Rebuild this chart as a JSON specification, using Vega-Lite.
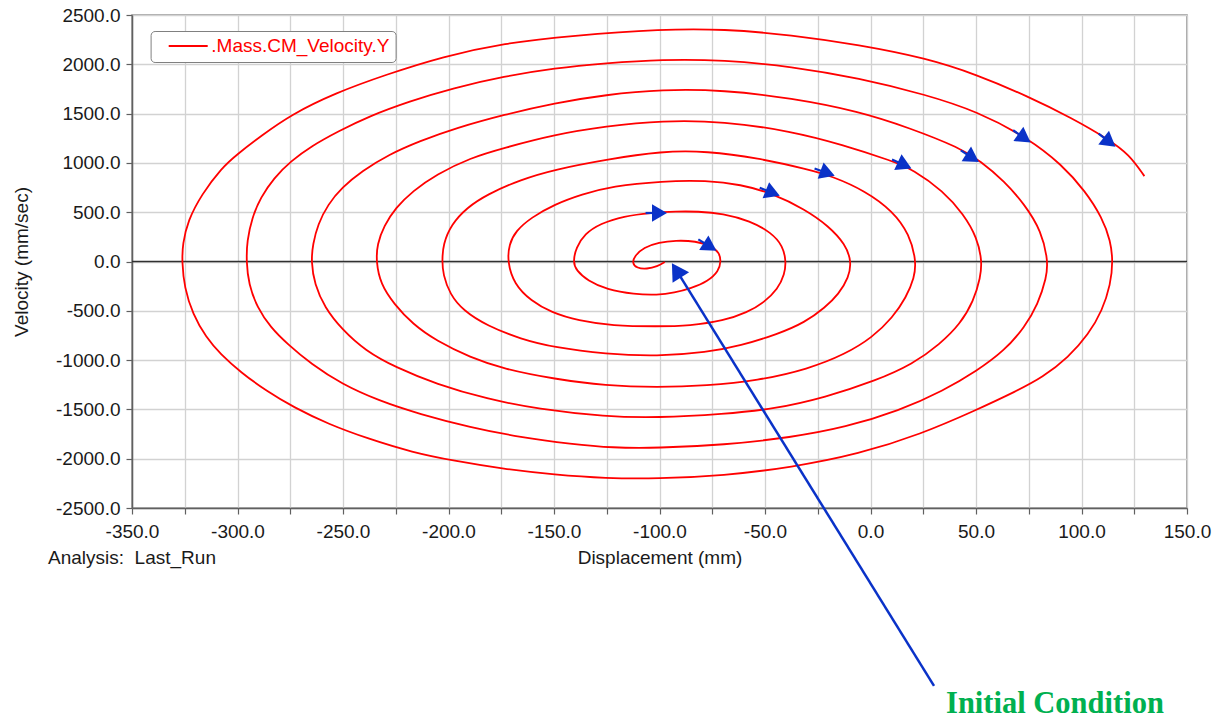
{
  "$schema": "https://vega.github.io/schema/vega-lite/v6.json",
  "width": 1055,
  "height": 493,
  "autosize": {"type": "none"},
  "padding": {"left": 132, "top": 15, "right": 40, "bottom": 213},
  "background": "white",
  "config": {
    "view": {"stroke": "#8c8c8c", "strokeWidth": 1.5},
    "font": "Liberation Sans",
    "axis": {
      "labelFont": "Liberation Sans", "labelFontSize": 19, "labelColor": "#1a1a1a",
      "titleFont": "Liberation Sans", "titleFontSize": 19, "titleFontWeight": "normal", "titleColor": "#1a1a1a",
      "gridColor": "#d2d2d2", "gridWidth": 1.3,
      "domainColor": "#606060", "domainWidth": 1.5,
      "tickColor": "#606060", "tickSize": 6, "tickWidth": 1.2,
      "labelOverlap": false, "labelBound": false, "labelFlush": false
    }
  },
  "datasets": {
    "spiral": [
      {"t":1,"displacement":-97.5,"velocity":-5},{"t":2,"displacement":-101,"velocity":-50},{"t":3,"displacement":-106,"velocity":-77},{"t":4,"displacement":-110.7,"velocity":-68},{"t":5,"displacement":-113,"velocity":-17},{"t":6,"displacement":-111.8,"velocity":57},{"t":7,"displacement":-107.5,"velocity":142},{"t":8,"displacement":-100.3,"velocity":193},{"t":9,"displacement":-92.4,"velocity":214},{"t":10,"displacement":-82.8,"velocity":207},{"t":11,"displacement":-75.6,"velocity":159},{"t":12,"displacement":-71.7,"velocity":91},{"t":13,"displacement":-70.8,"velocity":5},{"t":14,"displacement":-72,"velocity":-100},{"t":15,"displacement":-77,"velocity":-200},{"t":16,"displacement":-85,"velocity":-272},{"t":17,"displacement":-93,"velocity":-318},{"t":18,"displacement":-101,"velocity":-340},{"t":19,"displacement":-112,"velocity":-333},{"t":20,"displacement":-125,"velocity":-285},{"t":21,"displacement":-134,"velocity":-195},{"t":22,"displacement":-139.5,"velocity":-90},{"t":23,"displacement":-141,"velocity":0},{"t":24,"displacement":-139.5,"velocity":140},{"t":25,"displacement":-135.5,"velocity":280},{"t":26,"displacement":-128,"velocity":385},{"t":27,"displacement":-117,"velocity":460},{"t":28,"displacement":-104,"velocity":495},{"t":29,"displacement":-92,"velocity":508},{"t":30,"displacement":-82,"velocity":508},{"t":31,"displacement":-70,"velocity":488},{"t":32,"displacement":-57,"velocity":412},{"t":33,"displacement":-47,"velocity":293},{"t":34,"displacement":-41.5,"velocity":158},{"t":35,"displacement":-40,"velocity":0},
      {"t":36,"displacement":-40.7,"velocity":-128},{"t":37,"displacement":-43.9,"velocity":-280},{"t":38,"displacement":-50.4,"velocity":-415},{"t":39,"displacement":-58.4,"velocity":-517},{"t":40,"displacement":-69.6,"velocity":-601},{"t":41,"displacement":-85.6,"velocity":-652},{"t":42,"displacement":-101,"velocity":-659},{"t":43,"displacement":-122.4,"velocity":-652},{"t":44,"displacement":-138.5,"velocity":-601},{"t":45,"displacement":-151.3,"velocity":-517},{"t":46,"displacement":-160.9,"velocity":-399},{"t":47,"displacement":-168.9,"velocity":-230},{"t":48,"displacement":-172.1,"velocity":0},{"t":49,"displacement":-171.3,"velocity":175},{"t":50,"displacement":-168.1,"velocity":310},{"t":51,"displacement":-160.9,"velocity":445},{"t":52,"displacement":-149.7,"velocity":580},{"t":53,"displacement":-136.9,"velocity":681},{"t":54,"displacement":-122.4,"velocity":765},{"t":55,"displacement":-98.7,"velocity":816},{"t":56,"displacement":-77.6,"velocity":822},{"t":57,"displacement":-61.6,"velocity":782},{"t":58,"displacement":-46.3,"velocity":690},{"t":59,"displacement":-31.1,"velocity":529},{"t":60,"displacement":-19.9,"velocity":361},{"t":61,"displacement":-11.9,"velocity":175},{"t":62,"displacement":-9,"velocity":0},
      {"t":63,"displacement":-10.3,"velocity":-162},{"t":64,"displacement":-15.1,"velocity":-331},{"t":65,"displacement":-21.5,"velocity":-466},{"t":66,"displacement":-31.1,"velocity":-618},{"t":67,"displacement":-43.9,"velocity":-736},{"t":68,"displacement":-61.6,"velocity":-855},{"t":69,"displacement":-77.6,"velocity":-922},{"t":70,"displacement":-101,"velocity":-963},{"t":71,"displacement":-125.6,"velocity":-939},{"t":72,"displacement":-149.7,"velocity":-872},{"t":73,"displacement":-165.7,"velocity":-787},{"t":74,"displacement":-181.7,"velocity":-652},{"t":75,"displacement":-192.9,"velocity":-500},{"t":76,"displacement":-199.4,"velocity":-331},{"t":77,"displacement":-202.6,"velocity":-128},{"t":78,"displacement":-203,"velocity":0},{"t":79,"displacement":-202.6,"velocity":175},{"t":80,"displacement":-198.6,"velocity":378},{"t":81,"displacement":-191.3,"velocity":546},{"t":82,"displacement":-181.7,"velocity":681},{"t":83,"displacement":-165.7,"velocity":832},{"t":84,"displacement":-149.7,"velocity":933},{"t":85,"displacement":-125.6,"velocity":1034},{"t":86,"displacement":-98.7,"velocity":1120},{"t":87,"displacement":-77.6,"velocity":1119},{"t":88,"displacement":-53.6,"velocity":1051},{"t":89,"displacement":-29.5,"velocity":933},{"t":90,"displacement":-18.3,"velocity":866},{"t":91,"displacement":-2.3,"velocity":714},{"t":92,"displacement":10.5,"velocity":512},{"t":93,"displacement":18.5,"velocity":276},{"t":94,"displacement":21.7,"velocity":0},
      {"t":95,"displacement":20.8,"velocity":-162},{"t":96,"displacement":16.9,"velocity":-365},{"t":97,"displacement":10.5,"velocity":-568},{"t":98,"displacement":0.9,"velocity":-770},{"t":99,"displacement":-11.9,"velocity":-939},{"t":100,"displacement":-29.5,"velocity":-1091},{"t":101,"displacement":-53.6,"velocity":-1209},{"t":102,"displacement":-77.6,"velocity":-1260},{"t":103,"displacement":-101,"velocity":-1277},{"t":104,"displacement":-125.6,"velocity":-1260},{"t":105,"displacement":-149.7,"velocity":-1192},{"t":106,"displacement":-173.7,"velocity":-1091},{"t":107,"displacement":-189.7,"velocity":-973},{"t":108,"displacement":-205.8,"velocity":-804},{"t":109,"displacement":-217,"velocity":-635},{"t":110,"displacement":-225.8,"velocity":-432},{"t":111,"displacement":-232.2,"velocity":-230},{"t":112,"displacement":-234.3,"velocity":0},{"t":113,"displacement":-233.8,"velocity":175},{"t":114,"displacement":-230.6,"velocity":361},{"t":115,"displacement":-225,"velocity":546},{"t":116,"displacement":-217,"velocity":714},{"t":117,"displacement":-205.8,"velocity":883},{"t":118,"displacement":-189.7,"velocity":1051},{"t":119,"displacement":-173.7,"velocity":1152},{"t":120,"displacement":-149.7,"velocity":1287},{"t":121,"displacement":-125.6,"velocity":1371},{"t":122,"displacement":-98.7,"velocity":1430},{"t":123,"displacement":-69.6,"velocity":1422},{"t":124,"displacement":-37.5,"velocity":1321},{"t":125,"displacement":-13.5,"velocity":1186},{"t":126,"displacement":10.5,"velocity":1018},{"t":127,"displacement":20.1,"velocity":933},{"t":128,"displacement":34.5,"velocity":714},{"t":129,"displacement":44.1,"velocity":479},{"t":130,"displacement":50.5,"velocity":243},{"t":131,"displacement":52.9,"velocity":0},
      {"t":132,"displacement":52.1,"velocity":-162},{"t":133,"displacement":48.9,"velocity":-399},{"t":134,"displacement":42.5,"velocity":-635},{"t":135,"displacement":32.9,"velocity":-838},{"t":136,"displacement":20.1,"velocity":-1040},{"t":137,"displacement":2.5,"velocity":-1209},{"t":138,"displacement":-21.5,"velocity":-1378},{"t":139,"displacement":-45.5,"velocity":-1496},{"t":140,"displacement":-69.6,"velocity":-1547},{"t":141,"displacement":-101,"velocity":-1585},{"t":142,"displacement":-125.6,"velocity":-1574},{"t":143,"displacement":-157.7,"velocity":-1496},{"t":144,"displacement":-181.7,"velocity":-1395},{"t":145,"displacement":-205.8,"velocity":-1243},{"t":146,"displacement":-225,"velocity":-1074},{"t":147,"displacement":-239.4,"velocity":-905},{"t":148,"displacement":-250.6,"velocity":-686},{"t":149,"displacement":-258.7,"velocity":-466},{"t":150,"displacement":-263.5,"velocity":-230},{"t":151,"displacement":-265.1,"velocity":0},{"t":152,"displacement":-264.3,"velocity":175},{"t":153,"displacement":-261.9,"velocity":378},{"t":154,"displacement":-257.1,"velocity":580},{"t":155,"displacement":-250.6,"velocity":748},{"t":156,"displacement":-241,"velocity":917},{"t":157,"displacement":-228.2,"velocity":1085},{"t":158,"displacement":-213.8,"velocity":1220},{"t":159,"displacement":-196.2,"velocity":1355},{"t":160,"displacement":-173.7,"velocity":1489},{"t":161,"displacement":-149.7,"velocity":1607},{"t":162,"displacement":-125.6,"velocity":1691},{"t":163,"displacement":-98.7,"velocity":1745},{"t":164,"displacement":-69.6,"velocity":1739},{"t":165,"displacement":-37.5,"velocity":1658},{"t":166,"displacement":-5.5,"velocity":1523},{"t":167,"displacement":18.5,"velocity":1355},{"t":168,"displacement":42.5,"velocity":1152},{"t":169,"displacement":52.1,"velocity":1018},{"t":170,"displacement":63.4,"velocity":816},{"t":171,"displacement":73,"velocity":580},{"t":172,"displacement":81,"velocity":310},{"t":173,"displacement":84.2,"velocity":0},
      {"t":174,"displacement":83.4,"velocity":-162},{"t":175,"displacement":79.4,"velocity":-432},{"t":176,"displacement":73,"velocity":-669},{"t":177,"displacement":63.4,"velocity":-905},{"t":178,"displacement":50.5,"velocity":-1108},{"t":179,"displacement":34.5,"velocity":-1311},{"t":180,"displacement":13.7,"velocity":-1513},{"t":181,"displacement":-11.9,"velocity":-1682},{"t":182,"displacement":-37.5,"velocity":-1784},{"t":183,"displacement":-69.6,"velocity":-1861},{"t":184,"displacement":-101,"velocity":-1892},{"t":185,"displacement":-122.4,"velocity":-1890},{"t":186,"displacement":-141.7,"velocity":-1851},{"t":187,"displacement":-165.7,"velocity":-1784},{"t":188,"displacement":-189.7,"velocity":-1682},{"t":189,"displacement":-213.8,"velocity":-1547},{"t":190,"displacement":-233,"velocity":-1412},{"t":191,"displacement":-250.6,"velocity":-1243},{"t":192,"displacement":-265.1,"velocity":-1040},{"t":193,"displacement":-276.3,"velocity":-838},{"t":194,"displacement":-284.3,"velocity":-669},{"t":195,"displacement":-290.7,"velocity":-466},{"t":196,"displacement":-294.7,"velocity":-230},{"t":197,"displacement":-295.8,"velocity":0},{"t":198,"displacement":-295.5,"velocity":209},{"t":199,"displacement":-293.1,"velocity":445},{"t":200,"displacement":-289.1,"velocity":648},{"t":201,"displacement":-282.7,"velocity":849},{"t":202,"displacement":-274.7,"velocity":1018},{"t":203,"displacement":-265.1,"velocity":1169},{"t":204,"displacement":-252.2,"velocity":1321},{"t":205,"displacement":-237.8,"velocity":1472},{"t":206,"displacement":-218.6,"velocity":1624},{"t":207,"displacement":-197.8,"velocity":1759},{"t":208,"displacement":-173.7,"velocity":1877},{"t":209,"displacement":-149.7,"velocity":1961},{"t":210,"displacement":-125.6,"velocity":2011},{"t":211,"displacement":-98.7,"velocity":2050},{"t":212,"displacement":-69.6,"velocity":2045},{"t":213,"displacement":-37.5,"velocity":1978},{"t":214,"displacement":-5.5,"velocity":1860},{"t":215,"displacement":26.5,"velocity":1691},{"t":216,"displacement":50.5,"velocity":1523},{"t":217,"displacement":74.6,"velocity":1253},{"t":218,"displacement":90.6,"velocity":984},{"t":219,"displacement":101.8,"velocity":714},{"t":220,"displacement":109.8,"velocity":445},{"t":221,"displacement":113.8,"velocity":209},{"t":222,"displacement":114.9,"velocity":0},
      {"t":223,"displacement":113.8,"velocity":-230},{"t":224,"displacement":109.8,"velocity":-500},{"t":225,"displacement":103.4,"velocity":-736},{"t":226,"displacement":93.8,"velocity":-973},{"t":227,"displacement":81.5,"velocity":-1176},{"t":228,"displacement":69.5,"velocity":-1311},{"t":229,"displacement":49.5,"velocity":-1513},{"t":230,"displacement":24,"velocity":-1750},{"t":231,"displacement":-5.5,"velocity":-1953},{"t":232,"displacement":-37.5,"velocity":-2088},{"t":233,"displacement":-69.6,"velocity":-2172},{"t":234,"displacement":-101,"velocity":-2203},{"t":235,"displacement":-125.6,"velocity":-2199},{"t":236,"displacement":-149.7,"velocity":-2162},{"t":237,"displacement":-173.7,"velocity":-2105},{"t":238,"displacement":-197.8,"velocity":-2020},{"t":239,"displacement":-217,"velocity":-1936},{"t":240,"displacement":-237.8,"velocity":-1800},{"t":241,"displacement":-257.1,"velocity":-1648},{"t":242,"displacement":-273.3,"velocity":-1480},{"t":243,"displacement":-286.4,"velocity":-1311},{"t":244,"displacement":-298.4,"velocity":-1125},{"t":245,"displacement":-308.1,"velocity":-939},{"t":246,"displacement":-314.9,"velocity":-770},{"t":247,"displacement":-321.2,"velocity":-534},{"t":248,"displacement":-325.2,"velocity":-263},{"t":249,"displacement":-326.3,"velocity":0},{"t":250,"displacement":-326,"velocity":175},{"t":251,"displacement":-323.6,"velocity":411},{"t":252,"displacement":-317,"velocity":681},{"t":253,"displacement":-307.5,"velocity":950},{"t":254,"displacement":-300.3,"velocity":1085},{"t":255,"displacement":-289.1,"velocity":1270},{"t":256,"displacement":-274.7,"velocity":1489},{"t":257,"displacement":-253.8,"velocity":1708},{"t":258,"displacement":-229.8,"velocity":1894},{"t":259,"displacement":-202.6,"velocity":2079},{"t":260,"displacement":-173.7,"velocity":2214},{"t":261,"displacement":-141.7,"velocity":2291},{"t":262,"displacement":-98.7,"velocity":2358},{"t":263,"displacement":-69.6,"velocity":2358},{"t":264,"displacement":-37.5,"velocity":2298},{"t":265,"displacement":-5.5,"velocity":2197},{"t":266,"displacement":26.5,"velocity":2062},{"t":267,"displacement":50.5,"velocity":1894},{"t":268,"displacement":74.6,"velocity":1675},{"t":269,"displacement":95.4,"velocity":1456},{"t":270,"displacement":113,"velocity":1237},{"t":271,"displacement":122.6,"velocity":1085},{"t":272,"displacement":129.8,"velocity":866}
    ],
    "heads": [
      {"displacement":-76,"velocity":150,"angle":32},
      {"displacement":-100,"velocity":492,"angle":0},
      {"displacement":-46.3,"velocity":695,"angle":22},
      {"displacement":-20.3,"velocity":895,"angle":20},
      {"displacement":16.2,"velocity":975,"angle":25},
      {"displacement":48.4,"velocity":1050,"angle":33},
      {"displacement":73,"velocity":1250,"angle":35},
      {"displacement":113.3,"velocity":1210,"angle":38}
    ],
    "tails": [
      {"d1":-81.6,"v1":225,"d2":-76,"v2":150},
      {"d1":-106.6,"v1":492,"d2":-100,"v2":492},
      {"d1":-52.5,"v1":748,"d2":-46.3,"v2":695},
      {"d1":-26.5,"v1":944,"d2":-20.3,"v2":895},
      {"d1":10.2,"v1":1035,"d2":16.2,"v2":975},
      {"d1":42.8,"v1":1127,"d2":48.4,"v2":1050},
      {"d1":67.6,"v1":1331,"d2":73,"v2":1250},
      {"d1":108.1,"v1":1297,"d2":113.3,"v2":1210}
    ]
  },
  "layer": [
    {
      "data": {"values": [{"velocity": 0}]},
      "mark": {"type": "rule", "color": "#303030", "strokeWidth": 1.3},
      "encoding": {"y": {"field": "velocity", "type": "quantitative"}}
    },
    {
      "data": {"name": "spiral"},
      "mark": {"type": "line", "interpolate": "basis", "strokeWidth": 1.8, "strokeJoin": "round"},
      "encoding": {
        "x": {
          "field": "displacement", "type": "quantitative",
          "scale": {"domain": [-350, 150], "nice": false, "zero": false},
          "axis": {
            "values": [-350,-325,-300,-275,-250,-225,-200,-175,-150,-125,-100,-75,-50,-25,0,25,50,75,100,125,150],
            "labelExpr": "datum.value % 50 == 0 ? (datum.value < 0 ? '-' : '') + format(abs(datum.value), '.1f') : ''",
            "title": "Displacement (mm)",
            "labelPadding": 8,
            "titlePadding": 7
          }
        },
        "y": {
          "field": "velocity", "type": "quantitative",
          "scale": {"domain": [-2500, 2500], "nice": false, "zero": false},
          "axis": {
            "values": [-2500,-2250,-2000,-1750,-1500,-1250,-1000,-750,-500,-250,0,250,500,750,1000,1250,1500,1750,2000,2250,2500],
            "labelExpr": "datum.value % 500 == 0 ? (datum.value < 0 ? '-' : '') + format(abs(datum.value), '.1f') : ''",
            "title": "Velocity (mm/sec)",
            "labelPadding": 6,
            "titlePadding": 24
          }
        },
        "order": {"field": "t", "type": "quantitative"},
        "color": {
          "datum": ".Mass.CM_Velocity.Y",
          "scale": {"range": ["#ff0000"]},
          "legend": {
            "title": null,
            "orient": "none",
            "legendX": 18.6,
            "legendY": 16,
            "padding": 5.5,
            "symbolType": "M-3,0L3,0",
            "symbolSize": 169,
            "symbolStrokeWidth": 1.8,
            "symbolOffset": 22.6,
            "labelOffset": 13.6,
            "labelLimit": 0,
            "labelFont": "Liberation Sans",
            "labelFontSize": 19,
            "labelColor": "#ff0000",
            "fillColor": "white",
            "strokeColor": "#808080",
            "cornerRadius": 4
          }
        }
      }
    },
    {
      "data": {"name": "tails"},
      "mark": {"type": "rule", "color": "#0a32c8", "strokeWidth": 2.2},
      "encoding": {
        "x": {"field": "d1", "type": "quantitative"},
        "y": {"field": "v1", "type": "quantitative"},
        "x2": {"field": "d2"},
        "y2": {"field": "v2"}
      }
    },
    {
      "data": {"name": "heads"},
      "mark": {"type": "point", "shape": "triangle-right", "filled": true, "color": "#0a32c8", "opacity": 1, "size": 300},
      "encoding": {
        "x": {"field": "displacement", "type": "quantitative"},
        "y": {"field": "velocity", "type": "quantitative"},
        "angle": {"field": "angle", "type": "quantitative", "scale": null}
      }
    },
    {
      "data": {"values": [{"d1": 30.1, "v1": -4304, "d2": -91.8, "v2": -95}]},
      "mark": {"type": "rule", "color": "#0a32c8", "strokeWidth": 2.5},
      "encoding": {
        "x": {"field": "d1", "type": "quantitative"},
        "y": {"field": "v1", "type": "quantitative"},
        "x2": {"field": "d2"},
        "y2": {"field": "v2"}
      }
    },
    {
      "data": {"values": [{"displacement": -92.0, "velocity": -90, "angle": 238}]},
      "mark": {"type": "point", "shape": "triangle-right", "filled": true, "color": "#0a32c8", "opacity": 1, "size": 380},
      "encoding": {
        "x": {"field": "displacement", "type": "quantitative"},
        "y": {"field": "velocity", "type": "quantitative"},
        "angle": {"field": "angle", "type": "quantitative", "scale": null}
      }
    },
    {
      "data": {"values": [{"displacement": 35.8, "velocity": -4579, "label": "Initial Condition"}]},
      "mark": {"type": "text", "align": "left", "baseline": "alphabetic", "font": "Liberation Serif", "fontWeight": "bold", "fontSize": 30.5, "color": "#00b050"},
      "encoding": {
        "x": {"field": "displacement", "type": "quantitative"},
        "y": {"field": "velocity", "type": "quantitative"},
        "text": {"field": "label"}
      }
    },
    {
      "data": {"values": [{"displacement": -389.8, "velocity": -3068, "label": "Analysis:\u00a0 Last_Run"}]},
      "mark": {"type": "text", "align": "left", "baseline": "alphabetic", "font": "Liberation Sans", "fontSize": 19, "color": "#1a1a1a"},
      "encoding": {
        "x": {"field": "displacement", "type": "quantitative"},
        "y": {"field": "velocity", "type": "quantitative"},
        "text": {"field": "label"}
      }
    }
  ]
}
